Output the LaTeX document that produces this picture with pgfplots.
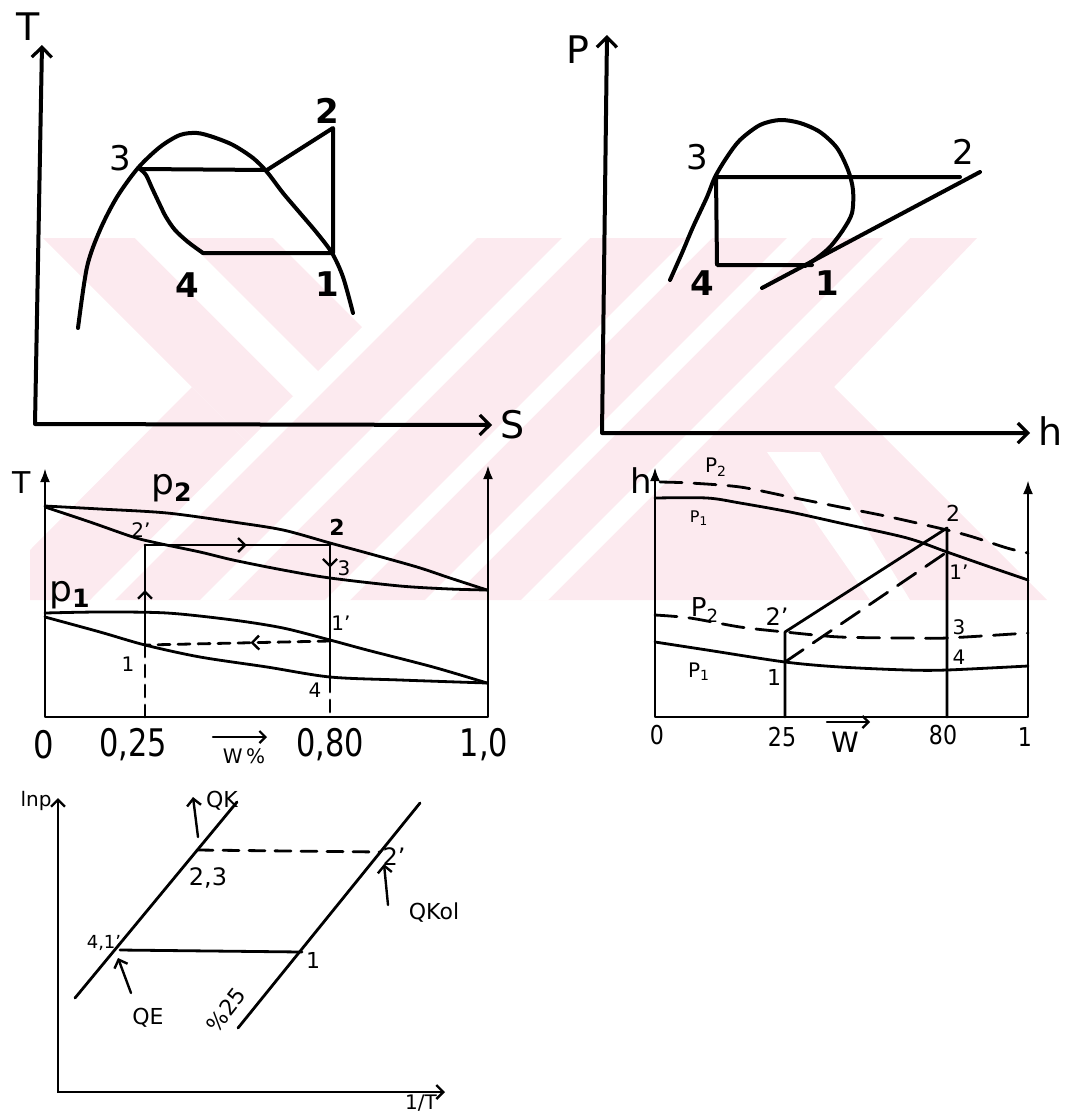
\documentclass[border=0pt]{standalone}
\usepackage{fontspec}
\setmainfont{DejaVu Sans}
\usepackage{pgfplots}
\pgfplotsset{compat=1.18}
\usetikzlibrary{arrows.meta,decorations.markings}
\definecolor{wm}{RGB}{252,234,239}
\pgfplotsset{panel/.style={hide axis, scale only axis, clip=false, enlargelimits=false, y dir=reverse, anchor=north west}}
\tikzset{
  cv/.style={line width=2pt, line cap=round, line join=round, black},
  tc/.style={line width=1.4pt, line cap=round, line join=round, black},
  barb/.tip={Straight Barb[length=5pt,width=10pt,line width=1.6pt]},
  sbarb/.tip={Straight Barb[length=3.5pt,width=7pt,line width=1.2pt]},
  fill tip/.tip={Latex[length=7pt,width=5pt]},
  midarrow/.style={postaction={decorate}, decoration={markings, mark=at position #1 with {\arrow{sbarb}}}},
}
\newcommand\fs[1]{\fontsize{#1}{#1}\selectfont}
\begin{document}
\begin{tikzpicture}
% ---------------- background watermark ----------------
\begin{axis}[panel, width=532.5pt, height=556pt, at={(0pt,0pt)}, xmin=0, xmax=1065, ymin=0, ymax=1112]
  \addplot[fill=wm, draw=none] coordinates {(43,238)(273,238)(362,327)(247,442)} -- cycle;
  \addplot[fill=wm, draw=none] coordinates {(192,387)(247,442)(90,600)(30,600)(30,550)} -- cycle;
  \addplot[fill=wm, draw=none] coordinates {(477,238)(977,238)(834,387)(1047,600)(115,600)} -- cycle;
  \addplot[fill=white, draw=none] coordinates {(135,238)(185,238)(323,376)(298,401)} -- cycle;
  \addplot[fill=white, draw=none] coordinates {(562,238)(590,238)(228,600)(200,600)} -- cycle;
  \addplot[fill=white, draw=none] coordinates {(687,238)(712,238)(350,600)(325,600)} -- cycle;
  \addplot[fill=white, draw=none] coordinates {(787,238)(812,238)(450,600)(425,600)} -- cycle;
  \addplot[fill=white, draw=none] coordinates {(883,238)(910,238)(548,600)(521,600)} -- cycle;
  \addplot[fill=white, draw=none] coordinates {(767,452)(820,452)(910,600)(870,600)} -- cycle;
\end{axis}
% ---------------- panel 1: T-S ----------------
\begin{axis}[panel, width=270pt, height=220pt, at={(0pt,0pt)}, xmin=0, xmax=540, ymin=0, ymax=440]
  \addplot[cv, barb-barb] coordinates {(42,45) (35,424) (492,425)};
  \addplot[cv, smooth] coordinates {(78,328)(87,267)(100,230)(117,197)(138,168)(160,147)(180,135)(197,133)(213,137)(233,145)(253,158)(267,172)(283,193)(300,213)(317,233)(332,253)(343,277)(353,313)};
  \addplot[cv] coordinates {(140,169)(267,170)(333,128)(333,253)(203,253)};
  \addplot[cv, smooth] coordinates {(203,253)(188,242)(175,230)(166,217)(160,205)(152,188)(146,175)(140,169)};
  \node[font=\fs{19}] at (axis cs:28,27) {T};
  \node[font=\fs{19}] at (axis cs:513,425) {S};
  \node[font=\fs{17}] at (axis cs:120,158) {3};
  \node[font=\bfseries\fs{17}] at (axis cs:327,111) {2};
  \node[font=\bfseries\fs{17}] at (axis cs:187,285) {4};
  \node[font=\bfseries\fs{17}] at (axis cs:327,284) {1};
\end{axis}
% ---------------- panel 2: P-h ----------------
\begin{axis}[panel, width=252.5pt, height=225pt, at={(280pt,0pt)}, xmin=560, xmax=1065, ymin=0, ymax=450]
  \addplot[cv, barb-barb] coordinates {(607,35) (602,433) (1030,433)};
  \addplot[cv, smooth] coordinates {(670,280)(682,253)(693,227)(707,197)(715,177)(727,157)(740,140)(760,125)(780,120)(800,123)(820,132)(837,148)(848,170)(853,190)(852,213)(843,230)(830,247)(817,258)(805,266)};
  \addplot[cv] coordinates {(762,288)(980,172)};
  \addplot[cv] coordinates {(960,177)(716,177)(717,265)(812,265)};
  \node[font=\fs{19}] at (axis cs:578,50) {P};
  \node[font=\fs{19}] at (axis cs:1051,431) {h};
  \node[font=\fs{17}] at (axis cs:697,157) {3};
  \node[font=\fs{17}] at (axis cs:963,152) {2};
  \node[font=\bfseries\fs{17}] at (axis cs:702,283) {4};
  \node[font=\bfseries\fs{17}] at (axis cs:827,283) {1};
\end{axis}
% ---------------- panel 3: T-W ----------------
\begin{axis}[panel, width=255pt, height=160pt, at={(0pt,-225pt)}, xmin=0, xmax=510, ymin=450, ymax=770]
  \addplot[tc, fill tip-fill tip] coordinates {(45,468)(45,717)(488,717)(488,465)};
  \addplot[tc, smooth] coordinates {(45,506)(100,509)(167,513)(233,522)(283,530)(330,543)(367,553)(417,567)(450,578)(487,590)};
  \addplot[tc, smooth] coordinates {(45,507)(90,522)(133,537)(157,543)(200,552)(233,560)(283,570)(330,578)(400,586)(450,589)(487,590)};
  \addplot[tc, smooth] coordinates {(45,613)(100,612)(167,613)(233,620)(283,628)(330,640)(367,650)(433,667)(487,683)};
  \addplot[tc, smooth] coordinates {(45,617)(100,632)(145,645)(200,657)(267,667)(330,677)(400,680)(487,683)};
  \addplot[tc, midarrow=0.55] coordinates {(145,545)(330,545)};
  \addplot[tc, midarrow=0.18] coordinates {(330,543)(330,680)};
  \addplot[tc, dash pattern=on 6pt off 4pt] coordinates {(330,680)(330,717)};
  \addplot[tc, midarrow=0.55] coordinates {(145,645)(145,545)};
  \addplot[tc, dash pattern=on 6pt off 4pt] coordinates {(145,645)(145,717)};
  \addplot[tc, dash pattern=on 6pt off 4pt, midarrow=0.43] coordinates {(330,641)(145,645)};
  \addplot[tc, line width=1.1pt, -{Straight Barb[length=3pt,width=6pt]}] coordinates {(213,737)(267,737)};
  \node[font=\fs{15}] at (axis cs:22,483) {T};
  \node[font=\fs{18}] at (axis cs:172,488) {p\textsubscript{\bfseries 2}};
  \node[font=\fs{18}] at (axis cs:70,595) {p\textsubscript{\bfseries 1}};
  \node[font=\fs{10}] at (axis cs:141,530) {2'};
  \node[font=\bfseries\fs{11}] at (axis cs:337,527) {2};
  \node[font=\fs{10}] at (axis cs:344,568) {3};
  \node[font=\fs{10}] at (axis cs:341,623) {1'};
  \node[font=\fs{10}] at (axis cs:128,664) {1};
  \node[font=\fs{10}] at (axis cs:315,690) {4};
  \node[font=\fs{19}, xscale=0.85] at (axis cs:44,745) {0};
  \node[font=\fs{19}, xscale=0.8] at (axis cs:133,745) {0,25};
  \node[font=\fs{19}, xscale=0.8] at (axis cs:330,745) {0,80};
  \node[font=\fs{19}, xscale=0.8] at (axis cs:484,745) {1,0};
  \node[font=\fs{10}] at (axis cs:244,756) {W\,\%};
\end{axis}
% ---------------- panel 4: h-W ----------------
\begin{axis}[panel, width=222.5pt, height=160pt, at={(310pt,-225pt)}, xmin=620, xmax=1065, ymin=450, ymax=770]
  \addplot[tc, fill tip-fill tip] coordinates {(655,467)(655,717)(1028,717)(1028,480)};
  \addplot[tc, smooth, dash pattern=on 11pt off 6pt] coordinates {(660,482)(690,483)(740,487)(790,497)(840,507)(890,517)(947,530)(973,537)(1007,548)(1028,553)};
  \addplot[tc, smooth] coordinates {(655,498)(707,498)(740,503)(790,512)(840,523)(907,538)(947,552)(990,567)(1028,580)};
  \addplot[tc, smooth, dash pattern=on 11pt off 6pt] coordinates {(655,615)(690,618)(740,627)(785,632)(840,637)(907,638)(947,638)(1028,633)};
  \addplot[tc, smooth] coordinates {(655,642)(707,650)(785,662)(840,667)(907,670)(947,670)(1028,666)};
  \addplot[tc] coordinates {(785,717)(785,632)(947,528)(947,717)};
  \addplot[tc, dash pattern=on 11pt off 6pt] coordinates {(785,662)(947,552)};
  \addplot[tc, line width=1.1pt, -{Straight Barb[length=3pt,width=6pt]}] coordinates {(827,722)(870,722)};
  \node[font=\fs{17}] at (axis cs:641,481) {h};
  \node[font=\fs{10}] at (axis cs:716,467) {P\textsubscript{2}};
  \node[font=\fs{8}] at (axis cs:699,518) {P\textsubscript{1}};
  \node[font=\fs{13}] at (axis cs:705,610) {P\textsubscript{2}};
  \node[font=\fs{10}] at (axis cs:699,672) {P\textsubscript{1}};
  \node[font=\fs{12}] at (axis cs:777,617) {2'};
  \node[font=\fs{11}] at (axis cs:774,677) {1};
  \node[font=\fs{11}] at (axis cs:953,513) {2};
  \node[font=\fs{10}] at (axis cs:959,572) {1'};
  \node[font=\fs{10}] at (axis cs:959,627) {3};
  \node[font=\fs{10}] at (axis cs:959,657) {4};
  \node[font=\fs{13}, xscale=0.85] at (axis cs:657,735) {0};
  \node[font=\fs{13}, xscale=0.85] at (axis cs:782,737) {25};
  \node[font=\fs{13}, xscale=0.85] at (axis cs:943,735) {80};
  \node[font=\fs{13}, xscale=0.85] at (axis cs:1025,737) {1};
  \node[font=\fs{14}] at (axis cs:845,742) {W};
\end{axis}
% ---------------- panel 5: lnp - 1/T ----------------
\begin{axis}[panel, width=240pt, height=171pt, at={(0pt,-385pt)}, xmin=0, xmax=480, ymin=770, ymax=1112]
  \addplot[line width=1.2pt, black, sbarb-sbarb] coordinates {(58,798)(58,1092)(445,1092)};
  \addplot[tc] coordinates {(75,998)(237,802)};
  \addplot[tc] coordinates {(238,1028)(420,803)};
  \addplot[tc, dash pattern=on 8pt off 5pt] coordinates {(197,850)(380,852)};
  \addplot[tc] coordinates {(120,950)(302,952)};
  \addplot[tc, line width=1.2pt, -sbarb] coordinates {(198,837)(193,797)};
  \addplot[tc, line width=1.2pt, -sbarb] coordinates {(131,993)(118,958)};
  \addplot[tc, line width=1.2pt, -sbarb] coordinates {(388,905)(384,864)};
  \node[font=\fs{10}] at (axis cs:36,801) {lnp};
  \node[font=\fs{10}] at (axis cs:421,1103) {1/T};
  \node[font=\fs{11}] at (axis cs:222,801) {QK};
  \node[font=\fs{12}] at (axis cs:208,878) {2,3};
  \node[font=\fs{12}] at (axis cs:394,857) {2'};
  \node[font=\fs{11}] at (axis cs:434,913) {QKol};
  \node[font=\fs{11}] at (axis cs:313,960) {1};
  \node[font=\fs{9}] at (axis cs:104,943) {4,1'};
  \node[font=\fs{11}] at (axis cs:148,1018) {QE};
  \node[font=\fs{11}, rotate=52, inner sep=0pt] at (axis cs:226,1010) {\%25};
\end{axis}
\pgfresetboundingbox
\path[use as bounding box] (0pt,0pt) rectangle (532.5pt,-556pt);
\end{tikzpicture}
\end{document}
